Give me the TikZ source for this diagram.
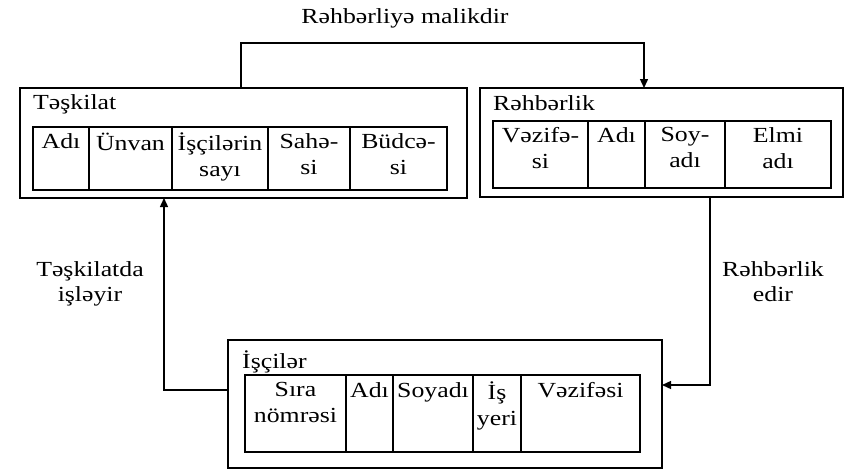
\documentclass[tikz,border=0pt]{standalone}
\usepackage{fontspec}
\setmainfont{Liberation Serif}[FakeStretch=1.2]
\usetikzlibrary{arrows.meta}
\tikzset{
  box/.style={draw, line width=1.4pt, inner sep=0pt, outer sep=0pt},
  cell/.style={draw, line width=1.4pt, inner sep=0pt, outer sep=0pt},
  ctext/.style={anchor=north, align=center, inner sep=0pt, font=\fontsize{21.5}{26}\selectfont},
  ttl/.style={anchor=west, inner sep=0pt, font=\fontsize{21.5}{26}\selectfont},
  lbl/.style={align=center, inner sep=0pt, font=\fontsize{21.5}{25}\selectfont},
  conn/.style={line width=1.4pt, -{Triangle[length=9pt,width=8pt]}}
}
\begin{document}
\begin{tikzpicture}[x=1pt,y=-1pt]
\useasboundingbox (0,0) rectangle (848,471);
% outer boxes
\node[box, minimum width=447pt, minimum height=110pt] (tk) at (243.5,143) {};
\node[box, minimum width=363pt, minimum height=109pt] (rh) at (661.5,142.5) {};
\node[box, minimum width=434pt, minimum height=128pt] (is) at (445,404) {};
% titles
\node[ttl] (tkt) at (33,104) {Təşkilat};
\node[ttl] (rht) at (493,103) {Rəhbərlik};
\node[ttl] (ist) at (242,362) {İşçilər};
% Teskilat table
\node[cell, minimum width=56pt, minimum height=63pt] (t1) at (61,158.5) {};
\node[cell, minimum width=83pt, minimum height=63pt] (t2) at (130.5,158.5) {};
\node[cell, minimum width=96pt, minimum height=63pt] (t3) at (220,158.5) {};
\node[cell, minimum width=82pt, minimum height=63pt] (t4) at (309,158.5) {};
\node[cell, minimum width=97pt, minimum height=63pt] (t5) at (398.5,158.5) {};
\node[ctext] (t1x) at ([yshift=-6pt]t1.north) {Adı};
\node[ctext] (t2x) at ([yshift=-6pt]t2.north) {Ünvan};
\node[ctext] (t3x) at ([yshift=-6pt]t3.north) {İşçilərin\\sayı};
\node[ctext] (t4x) at ([yshift=-6pt]t4.north) {Sahə-\\si};
\node[ctext] (t5x) at ([yshift=-6pt]t5.north) {Büdcə-\\si};
% Rehberlik table
\node[cell, minimum width=95pt, minimum height=67pt] (r1) at (540.5,154.5) {};
\node[cell, minimum width=57pt, minimum height=67pt] (r2) at (616.5,154.5) {};
\node[cell, minimum width=80pt, minimum height=67pt] (r3) at (685,154.5) {};
\node[cell, minimum width=106pt, minimum height=67pt] (r4) at (778,154.5) {};
\node[ctext] (r1x) at ([yshift=-6pt]r1.north) {Vəzifə-\\si};
\node[ctext] (r2x) at ([yshift=-6pt]r2.north) {Adı};
\node[ctext] (r3x) at ([yshift=-6pt]r3.north) {Soy-\\adı};
\node[ctext] (r4x) at ([yshift=-6pt]r4.north) {Elmi\\adı};
% Iscilar table
\node[cell, minimum width=101pt, minimum height=77pt] (i1) at (295.5,413.5) {};
\node[cell, minimum width=47pt, minimum height=77pt] (i2) at (369.5,413.5) {};
\node[cell, minimum width=80pt, minimum height=77pt] (i3) at (433,413.5) {};
\node[cell, minimum width=48pt, minimum height=77pt] (i4) at (497,413.5) {};
\node[cell, minimum width=119pt, minimum height=77pt] (i5) at (580.5,413.5) {};
\node[ctext] (i1x) at ([yshift=-7pt]i1.north) {Sıra\\nömrəsi};
\node[ctext] (i2x) at ([yshift=-7pt]i2.north) {Adı};
\node[ctext] (i3x) at ([yshift=-7pt]i3.north) {Soyadı};
\node[ctext] (i4x) at ([yshift=-7pt]i4.north) {İş\\yeri};
\node[ctext] (i5x) at ([yshift=-7pt]i5.north) {Vəzifəsi};
% connectors
\coordinate (bend) at (241,43);
\draw[conn] ([xshift=221pt]tk.north west) -- (bend) -| ([xshift=164pt]rh.north west);
\draw[conn] ([yshift=14pt]is.west) -| ([xshift=144pt]tk.south west);
\draw[conn] ([xshift=230pt]rh.south west) |- ([yshift=19pt]is.east);
% labels
\node[lbl] (l1) at (405,18) {Rəhbərliyə malikdir};
\node[lbl] (l2) at (90,284) {Təşkilatda\\işləyir};
\node[lbl] (l3) at (773,282) {Rəhbərlik\\edir};
\end{tikzpicture}
\end{document}
